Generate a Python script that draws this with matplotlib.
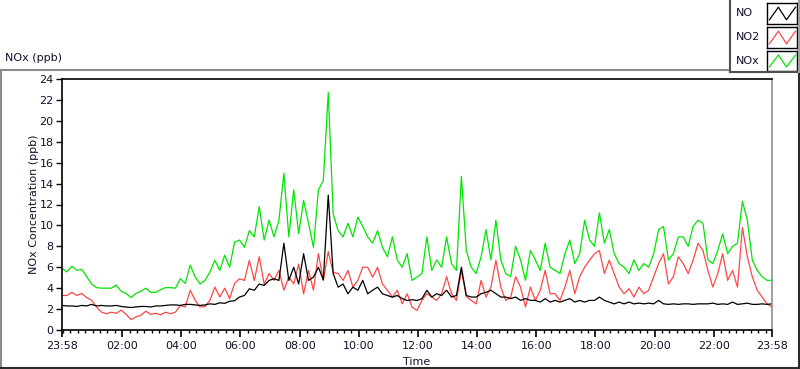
import matplotlib
matplotlib.use("Agg")
import matplotlib.pyplot as plt
from matplotlib.lines import Line2D
import numpy as np

plt.rcParams['font.family'] = ['DejaVu Sans']

# time in minutes since 23:58, 10-minute samples
minutes = list(range(0, 1441, 10))

nox = [5.9, 5.55, 6.1, 5.7, 5.8, 5.1, 4.4, 4.05, 4.0, 4.0, 4.0, 4.3, 3.7, 3.5, 3.1, 3.5, 3.7, 4.0, 3.6, 3.6,
       3.85, 4.05, 4.05, 4.0, 4.9, 4.45, 6.2, 5.1, 4.4, 4.75, 5.55, 6.67, 5.7, 7.15, 6.0, 8.4, 8.6,
       7.9, 9.5, 8.9, 11.8, 8.6, 10.5, 8.9, 10.5, 15.0, 8.9, 13.4, 9.2, 12.4, 10.2, 7.9, 13.4, 14.3, 22.7,
       11.1, 9.5, 8.9, 10.2, 8.9, 10.8, 9.9, 8.9, 8.3, 9.5, 7.9, 7.0, 8.9, 6.7, 6.0, 7.3, 4.74, 5.06,
       5.4, 8.9, 5.7, 6.7, 6.0, 8.9, 6.35, 5.7, 14.7, 7.6, 6.0, 5.4, 7.0, 9.6, 6.7, 10.5, 6.7, 5.4, 5.1,
       8.0, 6.7, 4.75, 7.6, 6.7, 5.7, 8.3, 6.0, 5.7, 5.4, 7.3, 8.6, 6.35, 7.3, 10.5, 8.6, 8.0, 11.2,
       8.3, 9.6, 7.3, 6.35, 6.0, 5.4, 6.7, 5.7, 6.35, 6.0, 7.3, 9.6, 9.9, 6.7, 7.3, 8.9, 8.9, 8.0, 9.9,
       10.5, 10.2, 6.7, 6.35, 7.6, 9.2, 7.3, 8.0, 8.3, 12.3, 10.5, 6.7, 5.7, 5.1, 4.75, 4.75]

no2 = [3.3, 3.3, 3.6, 3.3, 3.5, 3.1, 2.85, 2.2, 1.7, 1.55, 1.7, 1.6, 1.9, 1.5, 1.0, 1.25, 1.4, 1.8, 1.5, 1.6,
       1.45, 1.7, 1.55, 1.7, 2.35, 2.2, 3.8, 2.85, 2.2, 2.25, 2.85, 4.1, 3.15, 4.0, 3.0, 4.45, 4.9,
       4.74, 6.66, 4.74, 7.0, 4.4, 5.4, 4.74, 5.7, 3.8, 5.06, 4.4, 6.3, 3.46, 5.7, 3.8, 7.3, 4.74, 7.5,
       5.5, 5.4, 4.74, 5.7, 4.1, 4.74, 6.0, 6.0, 5.06, 6.0, 4.4, 3.8, 3.14, 3.8, 2.5, 3.46, 2.2, 1.86,
       2.83, 3.47, 3.15, 2.83, 3.47, 5.1, 3.47, 2.83, 5.7, 3.2, 2.83, 2.5, 4.75, 3.15, 4.1, 6.67, 4.1,
       2.83, 3.15, 5.1, 4.1, 2.2, 4.1, 2.83, 3.8, 5.7, 3.47, 3.47, 2.83, 4.1, 5.7, 3.47, 5.1, 6.0, 6.67,
       7.3, 7.6,
       5.4, 6.67, 5.4, 4.1, 3.47, 3.95, 3.15, 4.1, 3.47, 3.8, 5.1, 6.35, 7.3, 4.4, 5.1, 7.0, 6.35, 5.4,
       6.67, 8.3, 7.6, 5.7, 4.1, 5.4, 7.3, 4.75, 5.7, 4.1, 9.8, 7.0, 5.1, 3.8, 3.15, 2.5, 2.2]

no = [2.35, 2.3, 2.3, 2.25, 2.35, 2.3, 2.45, 2.3, 2.35, 2.3, 2.3, 2.35, 2.25, 2.2, 2.15, 2.2, 2.25, 2.25,
      2.2, 2.3, 2.3, 2.35, 2.4, 2.4, 2.35, 2.45, 2.45, 2.4, 2.35, 2.4, 2.5, 2.45, 2.6, 2.55, 2.75, 2.8, 3.15,
      3.3, 3.94, 3.8, 4.4, 4.26, 4.74, 4.9, 4.74, 8.3, 4.74, 6.0, 4.4, 7.3, 4.74, 5.06, 6.0, 4.8, 12.9,
      5.4, 4.1, 4.4, 3.46, 4.1, 3.8, 4.74, 3.46, 3.8, 4.1, 3.46, 3.3, 3.14, 3.3, 3.0, 2.82, 2.9, 2.82,
      3.0, 3.8, 3.15, 3.47, 3.3, 3.8, 3.15, 3.3, 6.0, 3.3, 3.15, 3.15, 3.47, 3.6, 3.8, 3.47, 3.15, 3.15,
      3.0, 3.15, 2.83, 3.0, 2.83, 2.83, 2.67, 3.0, 2.67, 2.83, 2.67, 2.83, 3.0, 2.67, 2.83, 2.67, 2.83,
      2.83, 3.15,
      2.83, 2.67, 2.5, 2.67, 2.5, 2.67, 2.5, 2.57, 2.5, 2.57, 2.5, 2.83, 2.5, 2.45, 2.5, 2.45, 2.5, 2.5,
      2.45, 2.5, 2.5, 2.5, 2.57, 2.45, 2.5, 2.45, 2.67, 2.45, 2.5, 2.57, 2.45, 2.45, 2.5, 2.45, 2.5]

series_names = ["NO", "NO2", "NOx"]
series_colors = ["#000000", "#ff4646", "#00e600"]

xtick_pos = [0, 122, 242, 362, 482, 602, 722, 842, 962, 1082, 1202, 1322, 1440]
xtick_lab = ["23:58", "02:00", "04:00", "06:00", "08:00", "10:00", "12:00", "14:00",
             "16:00", "18:00", "20:00", "22:00", "23:58"]
ytick_pos = list(range(0, 25, 2))

TXT = "#10102a"
W, H = 800, 369
fig = plt.figure(figsize=(W / 100, H / 100), dpi=100)
fig.patch.set_facecolor("white")

ax = fig.add_axes([62 / W, 1 - 330 / H, 710 / W, 251 / H])
ax.plot(minutes, nox, color=series_colors[2], lw=0.9)
ax.plot(minutes, no2, color=series_colors[1], lw=0.9)
ax.plot(minutes, no, color=series_colors[0], lw=0.9)

ax.set_xlim(0, 1440)
ax.set_ylim(0, 24)
ax.set_yticks(ytick_pos)
ax.set_xticks(xtick_pos)
ax.set_xticklabels(xtick_lab)
ax.set_xticks(np.arange(2, 1440, 15), minor=True)
ax.tick_params(axis="y", direction="out", length=4, width=1, pad=2, labelsize=8, colors="black", labelcolor=TXT)
ax.tick_params(axis="x", which="major", direction="out", length=5, width=1.2, pad=3, labelsize=8,
               colors="black", labelcolor=TXT)
ax.tick_params(axis="x", which="minor", direction="out", length=2.5, width=1, colors="black")
for s in ["left", "top", "bottom"]:
    ax.spines[s].set_color("black")
    ax.spines[s].set_linewidth(1.2)
ax.spines["right"].set_color("#909090")
ax.spines["right"].set_linewidth(1.2)
ax.set_xlabel("Time", fontsize=8, color=TXT, labelpad=4)
ax.set_ylabel("NOx Concentration (ppb)", fontsize=8, color=TXT, labelpad=0.5)

# outer frame
tf = fig.transFigure
def pl(x0, y0, x1, y1, c, lw=1.5):
    fig.add_artist(Line2D([x0 / W, x1 / W], [1 - y0 / H, 1 - y1 / H], color=c, lw=lw, transform=tf))
pl(1, 70, 730, 70, "#8c8c8c")
pl(1, 70, 1, 368, "#8c8c8c")
pl(1, 368, 799, 368, "#2a2a2a")
pl(798.5, 72, 798.5, 368, "#2a2a2a")

# legend box
pl(730, 0, 730, 72, "#505050")
pl(730, 72, 799, 72, "#505050")
pl(799, 0, 799, 72, "#a0a0a0")

fig.text(5 / W, 1 - 58 / H, "NOx (ppb)", fontsize=8, color=TXT, ha="left", va="center")

ys = [(3, 24), (27, 48), (51, 71)]
for (y0, y1), i in zip(ys, [0, 1, 2]):
    fig.text(736 / W, 1 - ((y0 + y1) / 2) / H, series_names[i], fontsize=8, color=TXT,
             ha="left", va="center")
    sax = fig.add_axes([767 / W, 1 - y1 / H, 30 / W, (y1 - y0) / H])
    sax.set_xlim(0, 1)
    sax.set_ylim(0, 1)
    sax.set_xticks([])
    sax.set_yticks([])
    for s in sax.spines.values():
        s.set_color("black")
        s.set_linewidth(1)
    sax.plot([0.08, 0.38, 0.65, 0.95], [0.2, 0.8, 0.2, 0.8], color=series_colors[i], lw=0.9)

fig.savefig("out.png", dpi=100)
